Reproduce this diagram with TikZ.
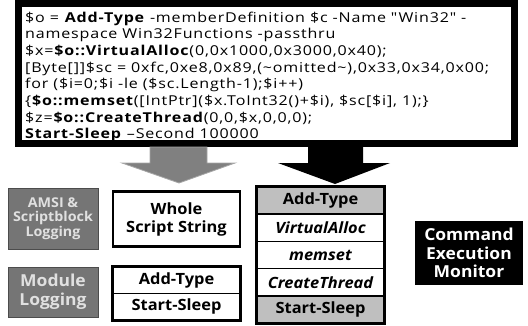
\documentclass[tikz,border=0pt]{standalone}
\usepackage{fontspec}
\setmainfont{Open Sans}
\newfontfamily\codefont{Open Sans}[FakeStretch=1.18,LetterSpace=6]
\newfontfamily\labfont{Open Sans}[FakeStretch=1.06]
\begin{document}
\begin{tikzpicture}[x=1pt,y=-1pt,
  code/.style={anchor=base west,inner sep=0pt,font=\codefont\fontsize{13.6}{16}\selectfont},
  graybox/.style={draw=black!70,line width=0.8pt,fill=black!54,text=black!12,font=\labfont\fontsize{13.5}{14.5}\selectfont\bfseries,align=center,inner sep=0pt},
  whitebox/.style={draw=black,line width=2.5pt,fill=white,font=\labfont\fontsize{15.5}{18}\selectfont\bfseries,align=center,inner sep=0pt},
  cell/.style={draw=black,line width=1.5pt,minimum width=127pt,minimum height=27.2pt,inner sep=0pt,font=\labfont\fontsize{15.5}{18}\selectfont\bfseries},
  gcell/.style={cell,fill=black!25},
  wcell/.style={cell,fill=white},
  blackbox/.style={fill=black,text=white,font=\labfont\fontsize{16.5}{18.5}\selectfont\bfseries,align=center,inner sep=0pt}
]
\useasboundingbox (0,0) rectangle (528,325);
% top code frame
\node[draw=black,line width=6.5pt,fill=white,minimum width=496pt,minimum height=140pt,inner sep=0pt] (frame) at (266.5,73.5) {};
\node[code] (l1) at (25,22) {\$o = \textbf{Add-Type} -memberDefinition \$c -Name "Win32" -};
\node[code] (l2) at (25,38.7) {namespace Win32Functions -passthru};
\node[code] (l3) at (25,55.4) {\$x=\textbf{\$o::VirtualAlloc}(0,0x1000,0x3000,0x40);};
\node[code] (l4) at (25,72.1) {[Byte[]]\$sc = 0xfc,0xe8,0x89,(\textasciitilde omitted\textasciitilde),0x33,0x34,0x00;};
\node[code] (l5) at (25,88.8) {for (\$i=0;\$i -le (\$sc.Length-1);\$i++)};
\node[code] (l6) at (25,105.5) {\{\textbf{\$o::memset}([IntPtr](\$x.ToInt32()+\$i), \$sc[\$i], 1);\}};
\node[code] (l7) at (25,122.2) {\$z=\textbf{\$o::CreateThread}(0,0,\$x,0,0,0);};
\node[code] (l8) at (25,138.9) {\textbf{Start-Sleep} \textendash Second 100000};
% arrows
\filldraw[fill=black!50,draw=black!35,line width=0.8pt]
  (150,147) -- (150,163) -- (122,163) -- (179,183) -- (235,163) -- (207,163) -- (207,147) -- cycle;
\fill[black]
  (308,147) -- (308,163) -- (278,163) -- (335,184) -- (390,163) -- (363,163) -- (363,147) -- cycle;
% left column
\node[graybox,minimum width=90pt,minimum height=61pt] (amsi) at (53,218.5) {AMSI \&\\Scriptblock\\Logging};
\node[graybox,minimum width=90pt,minimum height=50pt,font=\labfont\fontsize{16.5}{19}\selectfont\bfseries] (module) at (53,292) {Module\\Logging};
% middle column
\node[whitebox,minimum width=127pt,minimum height=55pt] (whole) at (176.5,219) {Whole\\Script String};
\node[cell,fill=white,minimum height=26.5pt] (ma) at (176.5,280) {Add-Type};
\node[cell,fill=white,minimum height=26.5pt] (ms) at (176.5,306.5) {Start-Sleep};
\draw[line width=2.5pt] (ma.north west) rectangle (ms.south east);
% right stack
\node[gcell] (r1) at (320.5,200.6) {Add-Type};
\node[wcell] (r2) at (320.5,227.8) {\itshape VirtualAlloc};
\node[wcell] (r3) at (320.5,255) {\itshape memset};
\node[wcell] (r4) at (320.5,282.2) {\itshape CreateThread};
\node[gcell] (r5) at (320.5,309.4) {Start-Sleep};
\draw[line width=2.5pt] (r1.north west) rectangle (r5.south east);
% monitor
\node[blackbox,minimum width=108pt,minimum height=64pt] (cem) at (469,253) {Command\\Execution\\Monitor};
\end{tikzpicture}
\end{document}
